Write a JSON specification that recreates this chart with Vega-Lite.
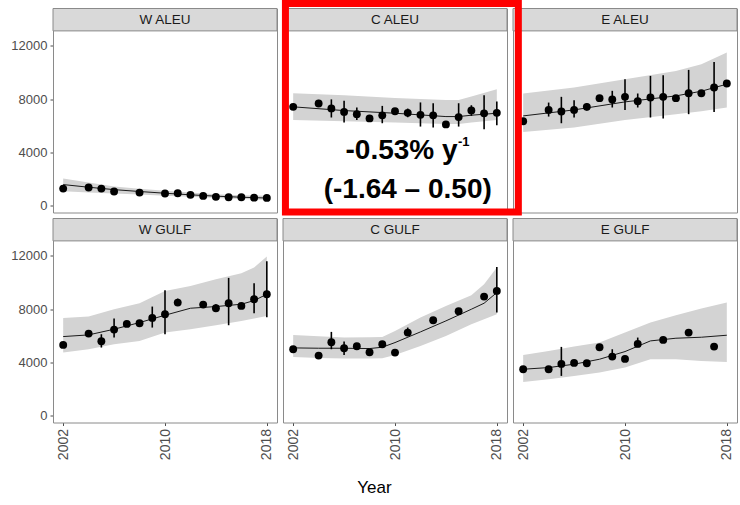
{
  "$schema": "https://vega.github.io/schema/vega-lite/v6.json",
  "background": "white",
  "autosize": {"type": "pad"},
  "padding": {"left": 10, "top": -2.5, "right": 2, "bottom": 5},
  "title": {"text": "Year", "orient": "bottom", "anchor": "middle", "font": "Liberation Sans", "fontSize": 17, "fontWeight": "normal", "color": "#000000", "offset": 20},
  "data": {"values": [
    {"kind": "obs", "region": "W ALEU", "year": 2002, "est": 1300, "lo": 1150, "hi": 1450},
    {"kind": "obs", "region": "W ALEU", "year": 2004, "est": 1380, "lo": 1250, "hi": 1500},
    {"kind": "obs", "region": "W ALEU", "year": 2005, "est": 1300, "lo": 1180, "hi": 1420},
    {"kind": "obs", "region": "W ALEU", "year": 2006, "est": 1080, "lo": 980, "hi": 1180},
    {"kind": "obs", "region": "W ALEU", "year": 2008, "est": 1000, "lo": 900, "hi": 1100},
    {"kind": "obs", "region": "W ALEU", "year": 2010, "est": 930, "lo": 850, "hi": 1010},
    {"kind": "obs", "region": "W ALEU", "year": 2011, "est": 950, "lo": 870, "hi": 1030},
    {"kind": "obs", "region": "W ALEU", "year": 2012, "est": 830, "lo": 760, "hi": 900},
    {"kind": "obs", "region": "W ALEU", "year": 2013, "est": 750, "lo": 690, "hi": 810},
    {"kind": "obs", "region": "W ALEU", "year": 2014, "est": 680, "lo": 620, "hi": 740},
    {"kind": "obs", "region": "W ALEU", "year": 2015, "est": 650, "lo": 600, "hi": 700},
    {"kind": "obs", "region": "W ALEU", "year": 2016, "est": 650, "lo": 600, "hi": 700},
    {"kind": "obs", "region": "W ALEU", "year": 2017, "est": 620, "lo": 570, "hi": 670},
    {"kind": "obs", "region": "W ALEU", "year": 2018, "est": 600, "lo": 550, "hi": 650},

    {"kind": "obs", "region": "C ALEU", "year": 2002, "est": 7430, "lo": 7330, "hi": 7530},
    {"kind": "obs", "region": "C ALEU", "year": 2004, "est": 7680, "lo": 7450, "hi": 7950},
    {"kind": "obs", "region": "C ALEU", "year": 2005, "est": 7310, "lo": 6630, "hi": 7990},
    {"kind": "obs", "region": "C ALEU", "year": 2006, "est": 7050, "lo": 6250, "hi": 7880},
    {"kind": "obs", "region": "C ALEU", "year": 2007, "est": 6880, "lo": 6450, "hi": 7380},
    {"kind": "obs", "region": "C ALEU", "year": 2008, "est": 6560, "lo": 6460, "hi": 6660},
    {"kind": "obs", "region": "C ALEU", "year": 2009, "est": 6790, "lo": 6200, "hi": 7500},
    {"kind": "obs", "region": "C ALEU", "year": 2010, "est": 7100, "lo": 7000, "hi": 7200},
    {"kind": "obs", "region": "C ALEU", "year": 2011, "est": 6980, "lo": 6650, "hi": 7300},
    {"kind": "obs", "region": "C ALEU", "year": 2012, "est": 6830, "lo": 5950, "hi": 7760},
    {"kind": "obs", "region": "C ALEU", "year": 2013, "est": 6790, "lo": 5880, "hi": 7700},
    {"kind": "obs", "region": "C ALEU", "year": 2014, "est": 6110, "lo": 6010, "hi": 6210},
    {"kind": "obs", "region": "C ALEU", "year": 2015, "est": 6660, "lo": 5950, "hi": 7700},
    {"kind": "obs", "region": "C ALEU", "year": 2016, "est": 7160, "lo": 6750, "hi": 7550},
    {"kind": "obs", "region": "C ALEU", "year": 2017, "est": 6940, "lo": 5750, "hi": 8300},
    {"kind": "obs", "region": "C ALEU", "year": 2018, "est": 6980, "lo": 6050, "hi": 7830},

    {"kind": "obs", "region": "E ALEU", "year": 2002, "est": 6350, "lo": 6250, "hi": 6450},
    {"kind": "obs", "region": "E ALEU", "year": 2004, "est": 7200, "lo": 6700, "hi": 7750},
    {"kind": "obs", "region": "E ALEU", "year": 2005, "est": 7080, "lo": 6200, "hi": 8180},
    {"kind": "obs", "region": "E ALEU", "year": 2006, "est": 7200, "lo": 6630, "hi": 7930},
    {"kind": "obs", "region": "E ALEU", "year": 2007, "est": 7430, "lo": 7150, "hi": 7700},
    {"kind": "obs", "region": "E ALEU", "year": 2008, "est": 8080, "lo": 7850, "hi": 8300},
    {"kind": "obs", "region": "E ALEU", "year": 2009, "est": 7980, "lo": 7380, "hi": 8630},
    {"kind": "obs", "region": "E ALEU", "year": 2010, "est": 8180, "lo": 7200, "hi": 9500},
    {"kind": "obs", "region": "E ALEU", "year": 2011, "est": 7850, "lo": 7380, "hi": 8430},
    {"kind": "obs", "region": "E ALEU", "year": 2012, "est": 8130, "lo": 6630, "hi": 9750},
    {"kind": "obs", "region": "E ALEU", "year": 2013, "est": 8180, "lo": 6550, "hi": 9800},
    {"kind": "obs", "region": "E ALEU", "year": 2014, "est": 8080, "lo": 7950, "hi": 8200},
    {"kind": "obs", "region": "E ALEU", "year": 2015, "est": 8450, "lo": 6880, "hi": 10200},
    {"kind": "obs", "region": "E ALEU", "year": 2016, "est": 8450, "lo": 8300, "hi": 8600},
    {"kind": "obs", "region": "E ALEU", "year": 2017, "est": 8880, "lo": 7050, "hi": 10800},
    {"kind": "obs", "region": "E ALEU", "year": 2018, "est": 9180, "lo": 9050, "hi": 9300},

    {"kind": "obs", "region": "W GULF", "year": 2002, "est": 5325, "lo": 5225, "hi": 5425},
    {"kind": "obs", "region": "W GULF", "year": 2004, "est": 6175, "lo": 6000, "hi": 6350},
    {"kind": "obs", "region": "W GULF", "year": 2005, "est": 5600, "lo": 5125, "hi": 6125},
    {"kind": "obs", "region": "W GULF", "year": 2006, "est": 6475, "lo": 5875, "hi": 7300},
    {"kind": "obs", "region": "W GULF", "year": 2007, "est": 6900, "lo": 6750, "hi": 7050},
    {"kind": "obs", "region": "W GULF", "year": 2008, "est": 6950, "lo": 6800, "hi": 7100},
    {"kind": "obs", "region": "W GULF", "year": 2009, "est": 7350, "lo": 6625, "hi": 8200},
    {"kind": "obs", "region": "W GULF", "year": 2010, "est": 7625, "lo": 6125, "hi": 9425},
    {"kind": "obs", "region": "W GULF", "year": 2011, "est": 8500, "lo": 8250, "hi": 8800},
    {"kind": "obs", "region": "W GULF", "year": 2013, "est": 8350, "lo": 8200, "hi": 8500},
    {"kind": "obs", "region": "W GULF", "year": 2014, "est": 8075, "lo": 7800, "hi": 8375},
    {"kind": "obs", "region": "W GULF", "year": 2015, "est": 8450, "lo": 6800, "hi": 10350},
    {"kind": "obs", "region": "W GULF", "year": 2016, "est": 8250, "lo": 8100, "hi": 8400},
    {"kind": "obs", "region": "W GULF", "year": 2017, "est": 8750, "lo": 7700, "hi": 9950},
    {"kind": "obs", "region": "W GULF", "year": 2018, "est": 9125, "lo": 7400, "hi": 11600},

    {"kind": "obs", "region": "C GULF", "year": 2002, "est": 5000, "lo": 4900, "hi": 5100},
    {"kind": "obs", "region": "C GULF", "year": 2004, "est": 4525, "lo": 4425, "hi": 4625},
    {"kind": "obs", "region": "C GULF", "year": 2005, "est": 5525, "lo": 5000, "hi": 6300},
    {"kind": "obs", "region": "C GULF", "year": 2006, "est": 5075, "lo": 4575, "hi": 5575},
    {"kind": "obs", "region": "C GULF", "year": 2007, "est": 5225, "lo": 5100, "hi": 5350},
    {"kind": "obs", "region": "C GULF", "year": 2008, "est": 4775, "lo": 4675, "hi": 4875},
    {"kind": "obs", "region": "C GULF", "year": 2009, "est": 5375, "lo": 5250, "hi": 5550},
    {"kind": "obs", "region": "C GULF", "year": 2010, "est": 4750, "lo": 4650, "hi": 4850},
    {"kind": "obs", "region": "C GULF", "year": 2011, "est": 6250, "lo": 6050, "hi": 6625},
    {"kind": "obs", "region": "C GULF", "year": 2013, "est": 7175, "lo": 7050, "hi": 7300},
    {"kind": "obs", "region": "C GULF", "year": 2015, "est": 7850, "lo": 7750, "hi": 7950},
    {"kind": "obs", "region": "C GULF", "year": 2017, "est": 8950, "lo": 8850, "hi": 9050},
    {"kind": "obs", "region": "C GULF", "year": 2018, "est": 9375, "lo": 7750, "hi": 11175},

    {"kind": "obs", "region": "E GULF", "year": 2002, "est": 3500, "lo": 3400, "hi": 3600},
    {"kind": "obs", "region": "E GULF", "year": 2004, "est": 3500, "lo": 3350, "hi": 3725},
    {"kind": "obs", "region": "E GULF", "year": 2005, "est": 3900, "lo": 3000, "hi": 5175},
    {"kind": "obs", "region": "E GULF", "year": 2006, "est": 3975, "lo": 3875, "hi": 4075},
    {"kind": "obs", "region": "E GULF", "year": 2007, "est": 3950, "lo": 3850, "hi": 4050},
    {"kind": "obs", "region": "E GULF", "year": 2008, "est": 5150, "lo": 4950, "hi": 5400},
    {"kind": "obs", "region": "E GULF", "year": 2009, "est": 4450, "lo": 4200, "hi": 5000},
    {"kind": "obs", "region": "E GULF", "year": 2010, "est": 4275, "lo": 4175, "hi": 4375},
    {"kind": "obs", "region": "E GULF", "year": 2011, "est": 5400, "lo": 5150, "hi": 5875},
    {"kind": "obs", "region": "E GULF", "year": 2013, "est": 5700, "lo": 5600, "hi": 5800},
    {"kind": "obs", "region": "E GULF", "year": 2015, "est": 6250, "lo": 6150, "hi": 6350},
    {"kind": "obs", "region": "E GULF", "year": 2017, "est": 5200, "lo": 5100, "hi": 5300},

    {"kind": "fit", "region": "W ALEU", "year": 2002, "est": 1600, "lo": 1100, "hi": 2050},
    {"kind": "fit", "region": "W ALEU", "year": 2004, "est": 1400, "lo": 1000, "hi": 1750},
    {"kind": "fit", "region": "W ALEU", "year": 2006, "est": 1220, "lo": 930, "hi": 1450},
    {"kind": "fit", "region": "W ALEU", "year": 2008, "est": 1080, "lo": 850, "hi": 1280},
    {"kind": "fit", "region": "W ALEU", "year": 2010, "est": 950, "lo": 760, "hi": 1130},
    {"kind": "fit", "region": "W ALEU", "year": 2012, "est": 830, "lo": 680, "hi": 1000},
    {"kind": "fit", "region": "W ALEU", "year": 2014, "est": 730, "lo": 600, "hi": 870},
    {"kind": "fit", "region": "W ALEU", "year": 2016, "est": 650, "lo": 520, "hi": 800},
    {"kind": "fit", "region": "W ALEU", "year": 2018, "est": 590, "lo": 450, "hi": 760},

    {"kind": "fit", "region": "C ALEU", "year": 2002, "est": 7430, "lo": 6450, "hi": 8450},
    {"kind": "fit", "region": "C ALEU", "year": 2006, "est": 7150, "lo": 6350, "hi": 8300},
    {"kind": "fit", "region": "C ALEU", "year": 2010, "est": 6950, "lo": 6250, "hi": 8100},
    {"kind": "fit", "region": "C ALEU", "year": 2014, "est": 6700, "lo": 6150, "hi": 7950},
    {"kind": "fit", "region": "C ALEU", "year": 2015, "est": 6700, "lo": 6150, "hi": 7950},
    {"kind": "fit", "region": "C ALEU", "year": 2016, "est": 6800, "lo": 6250, "hi": 8200},
    {"kind": "fit", "region": "C ALEU", "year": 2018, "est": 6950, "lo": 6450, "hi": 8750},

    {"kind": "fit", "region": "E ALEU", "year": 2002, "est": 6750, "lo": 5550, "hi": 8430},
    {"kind": "fit", "region": "E ALEU", "year": 2006, "est": 7200, "lo": 5875, "hi": 8875},
    {"kind": "fit", "region": "E ALEU", "year": 2010, "est": 7800, "lo": 6450, "hi": 9500},
    {"kind": "fit", "region": "E ALEU", "year": 2014, "est": 8250, "lo": 6875, "hi": 10125},
    {"kind": "fit", "region": "E ALEU", "year": 2016, "est": 8600, "lo": 7100, "hi": 10625},
    {"kind": "fit", "region": "E ALEU", "year": 2018, "est": 9130, "lo": 7375, "hi": 11500},

    {"kind": "fit", "region": "W GULF", "year": 2002, "est": 5950, "lo": 4750, "hi": 7350},
    {"kind": "fit", "region": "W GULF", "year": 2004, "est": 6075, "lo": 5000, "hi": 7450},
    {"kind": "fit", "region": "W GULF", "year": 2006, "est": 6500, "lo": 5375, "hi": 8000},
    {"kind": "fit", "region": "W GULF", "year": 2008, "est": 7000, "lo": 5625, "hi": 8450},
    {"kind": "fit", "region": "W GULF", "year": 2010, "est": 7550, "lo": 6250, "hi": 9375},
    {"kind": "fit", "region": "W GULF", "year": 2012, "est": 8075, "lo": 6500, "hi": 9750},
    {"kind": "fit", "region": "W GULF", "year": 2014, "est": 8200, "lo": 6800, "hi": 10250},
    {"kind": "fit", "region": "W GULF", "year": 2016, "est": 8375, "lo": 7125, "hi": 10700},
    {"kind": "fit", "region": "W GULF", "year": 2017, "est": 8650, "lo": 7300, "hi": 11125},
    {"kind": "fit", "region": "W GULF", "year": 2018, "est": 9125, "lo": 7500, "hi": 11950},

    {"kind": "fit", "region": "C GULF", "year": 2002, "est": 5100, "lo": 4425, "hi": 6075},
    {"kind": "fit", "region": "C GULF", "year": 2004, "est": 5075, "lo": 4350, "hi": 5975},
    {"kind": "fit", "region": "C GULF", "year": 2006, "est": 5075, "lo": 4300, "hi": 5875},
    {"kind": "fit", "region": "C GULF", "year": 2008, "est": 5050, "lo": 4300, "hi": 5900},
    {"kind": "fit", "region": "C GULF", "year": 2009, "est": 5150, "lo": 4325, "hi": 5925},
    {"kind": "fit", "region": "C GULF", "year": 2010, "est": 5500, "lo": 4575, "hi": 6375},
    {"kind": "fit", "region": "C GULF", "year": 2012, "est": 6300, "lo": 5250, "hi": 7375},
    {"kind": "fit", "region": "C GULF", "year": 2014, "est": 7125, "lo": 6000, "hi": 8250},
    {"kind": "fit", "region": "C GULF", "year": 2016, "est": 8000, "lo": 6875, "hi": 9050},
    {"kind": "fit", "region": "C GULF", "year": 2017, "est": 8450, "lo": 7250, "hi": 9875},
    {"kind": "fit", "region": "C GULF", "year": 2018, "est": 9250, "lo": 7625, "hi": 11125},

    {"kind": "fit", "region": "E GULF", "year": 2002, "est": 3500, "lo": 2550, "hi": 4575},
    {"kind": "fit", "region": "E GULF", "year": 2004, "est": 3625, "lo": 2750, "hi": 4875},
    {"kind": "fit", "region": "E GULF", "year": 2006, "est": 3875, "lo": 3000, "hi": 5200},
    {"kind": "fit", "region": "E GULF", "year": 2008, "est": 4250, "lo": 3250, "hi": 5500},
    {"kind": "fit", "region": "E GULF", "year": 2010, "est": 4825, "lo": 3625, "hi": 6250},
    {"kind": "fit", "region": "E GULF", "year": 2012, "est": 5625, "lo": 4250, "hi": 7000},
    {"kind": "fit", "region": "E GULF", "year": 2014, "est": 5825, "lo": 4250, "hi": 7550},
    {"kind": "fit", "region": "E GULF", "year": 2016, "est": 5900, "lo": 4125, "hi": 8050},
    {"kind": "fit", "region": "E GULF", "year": 2018, "est": 6050, "lo": 4050, "hi": 8500},

    {"kind": "note", "region": "C ALEU", "label": "-0.53% y", "sup": "-1", "ci": "(-1.64 – 0.50)"}
  ]},
  "facet": {"field": "region", "type": "nominal", "sort": ["W ALEU", "C ALEU", "E ALEU", "W GULF", "C GULF", "E GULF"],
            "header": {"labels": false, "labelExpr": "''", "labelPadding": 0, "labelFontSize": 1, "title": null}},
  "columns": 3,
  "spacing": {"row": 6, "column": 6},
  "bounds": "flush",
  "spec": {
    "width": 224,
    "height": 204,
    "layer": [
      {
        "transform": [{"filter": "datum.kind === 'fit'"}],
        "mark": {"type": "area", "color": "#d3d3d3", "opacity": 1},
        "encoding": {
          "x": {"field": "year", "type": "quantitative", "scale": {"domain": [2001.2, 2018.8], "nice": false, "zero": false},
                "axis": {"values": [2002, 2010, 2018], "format": "d", "labelAngle": 270, "title": null}},
          "y": {"field": "lo", "type": "quantitative", "scale": {"domain": [-495, 14805], "nice": false, "zero": false},
                "axis": {"values": [0, 4000, 8000, 12000], "format": "d", "title": null}},
          "y2": {"field": "hi"}
        }
      },
      {
        "transform": [{"filter": "datum.kind === 'fit'"}],
        "mark": {"type": "line", "color": "#1a1a1a", "strokeWidth": 1},
        "encoding": {
          "x": {"field": "year", "type": "quantitative"},
          "y": {"field": "est", "type": "quantitative"}
        }
      },
      {
        "transform": [{"filter": "datum.kind === 'obs'"}],
        "mark": {"type": "rule", "color": "#000000", "strokeWidth": 1.6},
        "encoding": {
          "x": {"field": "year", "type": "quantitative"},
          "y": {"field": "lo", "type": "quantitative"},
          "y2": {"field": "hi"}
        }
      },
      {
        "transform": [{"filter": "datum.kind === 'obs'"}],
        "mark": {"type": "circle", "color": "#000000", "size": 62, "opacity": 1},
        "encoding": {
          "x": {"field": "year", "type": "quantitative"},
          "y": {"field": "est", "type": "quantitative"}
        }
      },
      {
        "transform": [{"filter": "datum.kind === 'fit'"}, {"aggregate": [{"op": "count", "as": "n"}], "groupby": ["region"]}],
        "mark": {"type": "rect", "fill": "#d9d9d9", "stroke": "#8a8a8a", "strokeWidth": 1},
        "encoding": {
          "x": {"datum": 2001.2, "type": "quantitative"},
          "x2": {"datum": 2018.8},
          "y": {"datum": 13125, "type": "quantitative"},
          "y2": {"datum": 14805}
        }
      },
      {
        "transform": [{"filter": "datum.kind === 'fit'"}, {"aggregate": [{"op": "count", "as": "n"}], "groupby": ["region"]}],
        "mark": {"type": "text", "font": "Liberation Sans", "fontSize": 13.5, "color": "#1a1a1a", "baseline": "middle", "align": "center"},
        "encoding": {
          "x": {"datum": 2010, "type": "quantitative"},
          "y": {"datum": 13965, "type": "quantitative"},
          "text": {"field": "region"}
        }
      },
      {
        "transform": [{"filter": "datum.kind === 'note'"}],
        "mark": {"type": "text", "font": "Liberation Sans", "fontSize": 28, "fontWeight": "bold", "color": "#000000", "align": "right", "baseline": "alphabetic"},
        "encoding": {
          "x": {"datum": 2014.92, "type": "quantitative"},
          "y": {"datum": 3555, "type": "quantitative"},
          "text": {"field": "label"}
        }
      },
      {
        "transform": [{"filter": "datum.kind === 'note'"}],
        "mark": {"type": "text", "font": "Liberation Sans", "fontSize": 13, "fontWeight": "bold", "color": "#000000", "align": "left", "baseline": "alphabetic"},
        "encoding": {
          "x": {"datum": 2014.95, "type": "quantitative"},
          "y": {"datum": 4500, "type": "quantitative"},
          "text": {"field": "sup"}
        }
      },
      {
        "transform": [{"filter": "datum.kind === 'note'"}],
        "mark": {"type": "text", "font": "Liberation Sans", "fontSize": 28, "fontWeight": "bold", "color": "#000000", "align": "center", "baseline": "alphabetic"},
        "encoding": {
          "x": {"datum": 2011, "type": "quantitative"},
          "y": {"datum": 580, "type": "quantitative"},
          "text": {"field": "ci"}
        }
      },
      {
        "transform": [{"filter": "datum.kind === 'fit' && datum.region === 'E ALEU'"}, {"aggregate": [{"op": "count", "as": "n"}], "groupby": ["region"]}],
        "mark": {"type": "rect", "filled": false, "stroke": "#ff0000", "strokeWidth": 7, "clip": false},
        "encoding": {
          "x": {"datum": 1983.32, "type": "quantitative"},
          "x2": {"datum": 2001.62},
          "y": {"datum": 15188, "type": "quantitative"},
          "y2": {"datum": -465}
        }
      }
    ]
  },
  "config": {
    "view": {"stroke": "#8a8a8a", "strokeWidth": 1},
    "header": {"labels": false, "title": null, "labelPadding": 0},
    "headerFacet": {"labels": false, "title": null, "labelPadding": 0},
    "axis": {
      "labelFont": "Liberation Sans", "labelFontSize": 13, "labelColor": "#4d4d4d",
      "tickColor": "#4d4d4d", "tickSize": 3, "labelPadding": 3,
      "domain": false, "grid": false
    },
    "axisX": {"labelFontSize": 14, "labelPadding": 3}
  }
}
